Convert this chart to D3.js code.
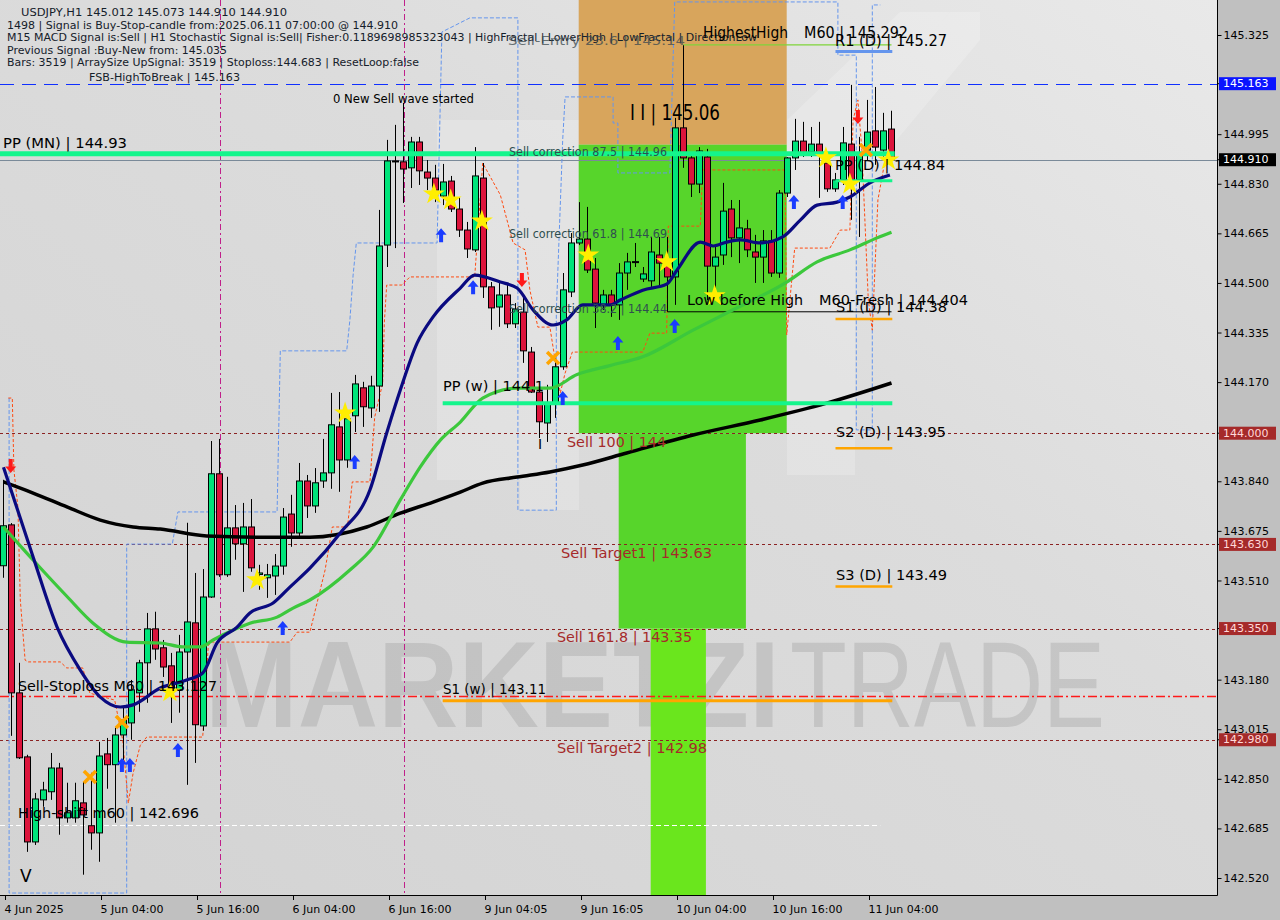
<!DOCTYPE html>
<html><head><meta charset="utf-8">
<script src="https://cdn.jsdelivr.net/npm/d3@7"></script>
<style>body{margin:0;background:#c0c0c0;}svg{display:block;}</style>
</head><body><svg id="c" width="1280" height="920"></svg>
<script>
// ---------- DATA ----------
const opens  = [143.559,143.695,143.136,142.923,142.640,142.780,142.807,142.886,142.720,142.720,142.770,142.694,142.670,142.933,142.897,142.996,143.036,143.136,143.236,143.349,143.286,143.226,143.146,143.272,143.369,143.026,143.455,143.865,143.529,143.685,143.632,143.688,143.530,143.519,143.525,143.558,143.731,143.668,143.841,143.758,143.841,143.868,144.021,143.911,144.058,144.151,144.084,144.157,144.626,144.906,144.903,144.883,144.969,144.869,144.849,144.789,144.839,144.746,144.676,144.610,144.849,144.487,144.420,144.460,144.364,144.403,144.270,144.137,144.034,144.101,144.221,144.470,144.633,144.646,144.546,144.427,144.460,144.427,144.533,144.570,144.513,144.507,144.593,144.560,144.520,145.016,144.916,144.829,144.919,144.556,144.593,144.746,144.650,144.680,144.603,144.586,144.640,144.533,144.799,144.916,144.972,144.936,144.962,144.899,144.813,144.843,144.962,144.843,144.942,145.006,144.942,145.012];
const highs  = [143.845,143.701,143.236,142.930,142.803,142.840,142.936,142.903,142.837,142.837,142.840,142.870,142.973,142.986,143.020,143.089,143.179,143.246,143.402,143.406,143.312,143.269,143.329,143.702,143.535,143.548,143.974,143.981,143.855,143.761,143.768,143.781,143.562,143.565,143.598,143.751,143.795,143.901,143.861,143.884,143.981,144.134,144.137,144.071,144.194,144.171,144.191,144.743,144.976,145.026,145.099,144.986,144.986,144.909,144.893,144.896,144.856,144.786,144.703,144.952,144.899,144.503,144.500,144.500,144.433,144.453,144.287,144.154,144.161,144.250,144.533,144.666,144.769,144.753,144.583,144.477,144.477,144.566,144.600,144.633,144.553,144.653,144.653,144.653,145.049,145.292,144.932,144.952,144.946,144.620,144.833,144.776,144.776,144.710,144.660,144.676,144.676,144.809,144.919,145.046,145.036,145.019,145.036,144.932,144.866,145.019,145.159,144.986,145.109,145.152,145.066,145.073];
const lows   = [143.519,142.993,142.916,142.607,142.630,142.757,142.780,142.664,142.704,142.704,142.531,142.614,142.574,142.817,142.704,142.913,142.980,143.073,143.103,143.246,143.189,143.036,143.070,142.830,142.903,143.010,143.452,143.522,143.522,143.579,143.472,143.539,143.479,143.452,143.462,143.529,143.622,143.652,143.718,143.735,143.818,143.815,143.805,143.885,144.004,144.021,144.051,144.071,144.553,144.616,144.766,144.816,144.826,144.809,144.769,144.759,144.736,144.653,144.583,144.603,144.450,144.344,144.354,144.350,144.350,144.234,144.134,143.984,143.971,144.051,144.211,144.453,144.626,144.533,144.350,144.410,144.387,144.377,144.477,144.553,144.503,144.487,144.493,144.427,144.427,144.883,144.786,144.799,144.443,144.453,144.560,144.586,144.566,144.586,144.500,144.500,144.520,144.517,144.786,144.876,144.919,144.919,144.783,144.803,144.803,144.826,144.710,144.653,144.909,144.893,144.909,144.910];
const closes = [143.692,143.136,142.920,142.640,142.783,142.813,142.886,142.720,142.737,142.777,142.730,142.670,142.926,142.897,142.996,143.046,143.146,143.236,143.349,143.282,143.222,143.146,143.272,143.372,143.030,143.455,143.865,143.529,143.685,143.632,143.688,143.552,143.535,143.529,143.558,143.721,143.668,143.841,143.758,143.835,143.868,144.028,143.911,144.048,144.164,144.088,144.157,144.623,144.906,144.903,144.879,144.969,144.873,144.849,144.809,144.836,144.746,144.676,144.613,144.856,144.487,144.417,144.460,144.364,144.413,144.274,144.137,144.038,144.101,144.221,144.477,144.633,144.646,144.543,144.433,144.460,144.427,144.533,144.570,144.571,144.530,144.603,144.566,144.520,145.016,144.916,144.829,144.939,144.556,144.586,144.739,144.650,144.683,144.610,144.586,144.640,144.533,144.799,144.916,144.972,144.932,144.962,144.932,144.813,144.843,144.966,144.843,144.932,145.002,144.952,145.006,144.910];

const timeLabels = ["4 Jun 2025","5 Jun 04:00","5 Jun 16:00","6 Jun 04:00","6 Jun 16:00","9 Jun 04:05","9 Jun 16:05","10 Jun 04:00","10 Jun 16:00","11 Jun 04:00"];
const timeIdx    = [0,12,24,36,48,60,72,84,96,108];
const priceTicks = [145.325,144.995,144.830,144.665,144.500,144.335,144.170,143.840,143.675,143.510,143.180,143.015,142.850,142.685,142.520];
const markedPrices = [145.163,144.910,144.000,143.630,143.350,142.980];
const markedKinds  = ["blue","black","red","red","red","red"];

// moving averages: [bar index, price]
const maFast = [[0,143.887],[3.7,143.588],[6.7,143.355],[9.6,143.212],[12.1,143.122],[14.6,143.089],[16.2,143.096],[19.6,143.152],[22.9,143.179],[24.9,143.202],[26.7,143.302],[29.2,143.355],[30.8,143.402],[33.7,143.435],[35.8,143.488],[38.3,143.551],[42.1,143.668],[45.8,143.811],[47.9,144.001],[49.6,144.144],[51.7,144.300],[53.7,144.387],[57.1,144.483],[58.9,144.526],[62.1,144.503],[64.2,144.483],[66.2,144.410],[68.7,144.360],[70.4,144.377],[72.4,144.427],[75.8,144.427],[77.1,144.443],[79.9,144.476],[82.9,144.496],[84.2,144.543],[87.1,144.636],[88.7,144.623],[90.4,144.636],[92.1,144.643],[94.6,144.633],[97.4,144.653],[99.6,144.709],[101.7,144.759],[104.2,144.769],[105.8,144.786],[108.3,144.833],[110.8,144.859]];
const maMid = [[0,143.688],[3.7,143.578],[8.0,143.455],[11.2,143.368],[15.4,143.305],[19.6,143.302],[22.4,143.289],[24.6,143.289],[26.2,143.312],[28.7,143.345],[30.8,143.368],[34.2,143.388],[36.2,143.418],[38.3,143.445],[43.3,143.545],[46.2,143.621],[49.6,143.778],[52.1,143.888],[54.6,143.977],[57.1,144.037],[59.9,144.117],[64.2,144.150],[68.3,144.150],[71.7,144.195],[75.8,144.225],[79.9,144.254],[86.2,144.343],[90.4,144.400],[97.9,144.503],[101.7,144.570],[105.8,144.610],[109.2,144.650],[111,144.669]];
const maSlow = [[0,143.838],[3.7,143.801],[8.0,143.754],[12.1,143.711],[16.2,143.688],[19.6,143.681],[25.4,143.658],[32.4,143.654],[38.3,143.654],[45.4,143.688],[49.6,143.734],[53.7,143.771],[57.1,143.804],[59.9,143.834],[64.2,143.854],[68.3,143.871],[72.4,143.894],[77.9,143.934],[86.2,143.994],[94.6,144.044],[102.9,144.100],[111,144.167]];
// step indicators [bar index, price]
const stopLine = [[0.6,144.117],[1.1,144.117],[1.3,143.878],[1.8,143.754],[2.1,143.445],[2.7,143.245],[3.1,143.239],[7.1,143.239],[7.9,143.219],[9.9,143.219],[10.8,143.135],[13.9,143.112],[14.9,142.979],[15.6,142.769],[16.2,142.869],[17.1,142.962],[17.9,142.989],[24.9,142.989],[25.2,143.112],[25.6,143.295],[26.1,143.305],[35.8,143.305],[36.7,143.338],[38.3,143.338],[40.2,143.545],[41.1,143.688],[43.0,143.688],[43.6,143.838],[45.8,143.838],[46.4,144.054],[47.4,144.167],[47.6,144.367],[47.9,144.493],[49.8,144.493],[50.8,144.520],[58.9,144.520],[59.9,144.899],[62.1,144.793],[63.7,144.633],[65.2,144.610],[65.8,144.476],[66.8,144.353],[68.3,144.353],[69.6,144.134],[70.2,144.200],[71.1,144.270],[79.9,144.270],[80.8,144.333],[82.9,144.333],[83.1,144.689],[87.1,144.689],[87.4,144.876],[97.7,144.876],[97.9,144.327],[98.9,144.616],[103.3,144.616],[104.6,144.676],[105.8,144.676],[106.2,145.042],[106.8,145.109],[107.3,144.942],[108.1,144.443],[108.6,144.343],[109.3,144.776],[110.2,144.909],[110.8,144.909]];
const bandLine = [[0.7,144.117],[0.7,142.470],[15.4,142.470],[15.4,143.631],[21.1,143.631],[21.8,143.738],[34.2,143.738],[34.6,144.274],[42.9,144.274],[43.3,144.377],[43.7,144.526],[44.1,144.633],[54.2,144.633],[54.8,145.335],[58.3,145.382],[64.3,145.382],[64.3,143.744],[69.1,143.744],[69.1,144.400],[69.9,144.976],[70.2,145.119],[76.2,145.119],[76.2,145.032],[76.8,145.032],[76.8,144.866],[83.3,144.866],[83.9,145.435],[104.3,145.435],[104.3,145.258],[106.6,145.258],[106.6,144.011],[108.6,144.011],[108.6,145.425],[109.6,145.425]];

// zones: [start idx, end idx, top price, bottom price, kind]
const zoneStart = [71.9,71.9,76.9,80.9];
const zoneEnd   = [97.9,97.9,92.8,87.8];
const zoneTop   = [145.45,144.96,144.00,143.35];
const zoneBot   = [144.96,144.00,143.35,142.46];
const zoneKind  = ["entry","tp1","tp2","tp3"];

// signals [bar index, price]
const buyArrows  = [[14.8,142.896],[15.8,142.896],[21.8,142.946],[34.9,143.352],[43.9,143.904],[54.7,144.659],[58.7,144.486],[69.9,144.117],[76.8,144.300],[83.9,144.357],[98.8,144.769],[104.9,144.769]];
const sellArrows = [[0.9,143.891],[64.8,144.510],[106.8,145.052]];
const stars      = [[20.8,143.139],[31.7,143.512],[42.7,144.067],[53.8,144.796],[55.9,144.776],[59.8,144.706],[73.1,144.593],[82.9,144.570],[88.9,144.457],[102.8,144.916],[105.8,144.829],[110.6,144.909]];
const crosses    = [[10.8,142.856],[14.8,143.039],[68.7,144.250],[107.8,144.942]];

// ---------- SCALES ----------
const svg = d3.select('#c');
const PR = 1217, PB = 895;
const x = d3.scaleLinear().domain([0,111]).range([3.5,891.5]);
const y = d3.scaleLinear().domain([142.520,145.325]).range([878,35]);

// defs
const defs = svg.append('defs');
const lg = defs.append('linearGradient').attr('id','bg').attr('x1','0').attr('y1','1').attr('x2','1').attr('y2','0');
lg.append('stop').attr('offset','0').attr('stop-color','#d3d3d3');
lg.append('stop').attr('offset','0.6').attr('stop-color','#dcdcdc');
lg.append('stop').attr('offset','1').attr('stop-color','#e9e9e9');
defs.append('clipPath').attr('id','clip').append('rect').attr('x',0).attr('y',0).attr('width',PR).attr('height',PB);

svg.append('rect').attr('width',1280).attr('height',920).attr('fill','#c0c0c0');
svg.append('rect').attr('width',PR).attr('height',PB).attr('fill','url(#bg)');

const plot = svg.append('g').attr('clip-path','url(#clip)');

// watermark logo shapes (decorative)
const wm = plot.append('g').attr('fill','#ffffff').attr('opacity',0.2);
wm.append('polygon').attr('points','437,120 579,120 579,510 520,510 520,480 437,480');
wm.append('polygon').attr('points','437,120 520,120 700,330 650,400');
wm.append('polygon').attr('points','787,120 855,120 855,475 787,475');
wm.append('polygon').attr('points','855,120 950,12 980,12 980,40 855,190');
wm.append('polygon').attr('points','787,120 860,120 950,12 900,12');

// watermark text
plot.append('text').attr('x',205).attr('y',727).text('MARKETZI')
  .attr('font-family','Liberation Sans, Arial, sans-serif').attr('font-weight','bold').attr('font-size',122)
  .attr('textLength',575).attr('lengthAdjust','spacingAndGlyphs').attr('fill','#9a9a9a').attr('opacity',0.33);
plot.append('text').attr('x',790).attr('y',727).text('TRADE')
  .attr('font-family','Liberation Sans, Arial, sans-serif').attr('font-weight','normal').attr('font-size',122)
  .attr('textLength',315).attr('lengthAdjust','spacingAndGlyphs').attr('fill','#9a9a9a').attr('opacity',0.33);

// zones
const zoneColor = {entry:'#d8a55c', tp1:'#57d52b', tp2:'#57d52b', tp3:'#6ae61d'};
plot.selectAll('rect.zone').data(d3.range(zoneStart.length)).join('rect')
  .attr('x',i=>x(zoneStart[i])).attr('width',i=>x(zoneEnd[i])-x(zoneStart[i]))
  .attr('y',i=>y(zoneTop[i])).attr('height',i=>y(zoneBot[i])-y(zoneTop[i]))
  .attr('fill',i=>zoneColor[zoneKind[i]]);

// horizontal level lines (full width)
function hline(p, x0, x1, color, w, dash){
  plot.append('line').attr('x1',x0).attr('x2',x1).attr('y1',Math.round(y(p))+0.5).attr('y2',Math.round(y(p))+0.5)
    .attr('stroke',color).attr('stroke-width',w).attr('stroke-dasharray',dash||null);
}
hline(145.163,0,PR,'#1030ff',1,'14,8');
hline(144.910,0,PR,'#7a8a99',1);
[144.000,143.630,143.350,142.980].forEach(p=>hline(p,0,PR,'#8b2222',1,'3,3'));
hline(143.127,0,PR,'#ff1a1a',1.3,'9,3,2,3');
hline(142.696,0,x(109.6),'#ffffff',1,'5,3');

// vertical dash-dot separators
[27,50].forEach(i=>{
  plot.append('line').attr('x1',Math.round(x(i))+0.5).attr('x2',Math.round(x(i))+0.5).attr('y1',0).attr('y2',PB)
    .attr('stroke','#c0208a').attr('stroke-width',1).attr('stroke-dasharray','6,3,2,3');
});

// step indicator lines
const lineGen = d3.line().x(d=>x(d[0])).y(d=>y(d[1]));
plot.append('path').attr('d',lineGen(bandLine)).attr('fill','none').attr('stroke','#6495ed').attr('stroke-width',1).attr('stroke-dasharray','4,2');
plot.append('path').attr('d',lineGen(stopLine)).attr('fill','none').attr('stroke','#ff4a10').attr('stroke-width',1).attr('stroke-dasharray','3,2');

// candles
const bars = d3.range(opens.length).map(i=>({i,o:opens[i],h:highs[i],l:lows[i],c:closes[i]}));
const cg = plot.append('g');
cg.selectAll('line').data(bars).join('line')
  .attr('x1',d=>x(d.i)).attr('x2',d=>x(d.i))
  .attr('y1',d=>y(d.h)).attr('y2',d=>y(d.l)).attr('stroke','#000').attr('stroke-width',1);
cg.selectAll('rect').data(bars).join('rect')
  .attr('x',d=>x(d.i)-3).attr('width',6)
  .attr('y',d=>Math.min(y(d.o),y(d.c))).attr('height',d=>Math.max(1,Math.abs(y(d.o)-y(d.c))))
  .attr('fill',d=>d.c>=d.o?'#00e47a':'#dc143c').attr('stroke','#000').attr('stroke-width',1);

// black bracket "low before high" & M60 line
plot.append('path').attr('d',`M${x(83)},${y(144.49)} L${x(83)},${y(144.404)} L${x(111)},${y(144.404)}`).attr('fill','none').attr('stroke','#000').attr('stroke-width',1);
plot.append('line').attr('x1',x(85)).attr('x2',x(111)).attr('y1',y(145.292)).attr('y2',y(145.292)).attr('stroke','#7fd43a').attr('stroke-width',1.2);

// moving averages
const curve = d3.line().x(d=>x(d[0])).y(d=>y(d[1])).curve(d3.curveMonotoneX);
plot.append('path').attr('d',curve(maSlow)).attr('fill','none').attr('stroke','#000').attr('stroke-width',3.5);
plot.append('path').attr('d',curve(maMid)).attr('fill','none').attr('stroke','#3cc83c').attr('stroke-width',3.2);
plot.append('path').attr('d',curve(maFast)).attr('fill','none').attr('stroke','#0a0a80').attr('stroke-width',3.2);

// pivot segments
function seg(p,i0,i1,color,w){ plot.append('line').attr('x1',x(i0)).attr('x2',x(i1)).attr('y1',y(p)).attr('y2',y(p)).attr('stroke',color).attr('stroke-width',w); }
seg(144.93,-0.5,111.4,'#14f58c',5);
seg(144.10,54.9,111.1,'#14f58c',4);
seg(143.11,54.9,111.1,'#ffa500',3);
seg(145.27,104,111.1,'#6495ed',3);
seg(144.84,104,111.1,'#14f58c',3);
seg(144.38,104,111.1,'#ffa500',2.5);
seg(143.95,104,111.1,'#ffa500',2.5);
seg(143.49,104,111.1,'#ffa500',2.5);

// markers
const mg = plot.append('g');
mg.selectAll('path.buy').data(buyArrows).join('path')
  .attr('transform',d=>`translate(${x(d[0])},${y(d[1])})`)
  .attr('d','M0,-7 L5.5,-0.5 L2,-0.5 L2,7 L-2,7 L-2,-0.5 L-5.5,-0.5 Z').attr('fill','#1a3cff');
mg.selectAll('path.sell').data(sellArrows).join('path')
  .attr('transform',d=>`translate(${x(d[0])},${y(d[1])})`)
  .attr('d','M0,7 L5.5,0.5 L2,0.5 L2,-7 L-2,-7 L-2,0.5 L-5.5,0.5 Z').attr('fill','#ff1a1a');
mg.selectAll('path.star').data(stars).join('path')
  .attr('transform',d=>`translate(${x(d[0])},${y(d[1])})`)
  .attr('d',d3.symbol(d3.symbolStar,150)()).attr('fill','#ffee00');
mg.selectAll('path.cross').data(crosses).join('path')
  .attr('transform',d=>`translate(${x(d[0])},${y(d[1])})`)
  .attr('d','M-6,-6 L6,6 M6,-6 L-6,6').attr('stroke','#ffa500').attr('stroke-width',3.5).attr('fill','none');

// ---------- TEXT LABELS ----------
const FONT = 'DejaVu Sans, Verdana, sans-serif';
function label(t,px,py,size,w,color,extra){
  const el = svg.append('text').attr('x',px).attr('y',py).attr('dominant-baseline','central')
    .attr('font-family',FONT).attr('font-size',size).attr('fill',color||'#000').text(t);
  if(w) el.attr('textLength',w).attr('lengthAdjust','spacingAndGlyphs');
  if(extra) extra(el);
  return el;
}
const TL='#15202a';
label('USDJPY,H1  145.012 145.073 144.910 144.910',21,12.7,11,266,TL);
label('1498 | Signal is Buy-Stop-candle from:2025.06.11 07:00:00 @ 144.910',7,25.3,11,391,TL);
label('M15 MACD Signal is:Sell | H1 Stochastic Signal is:Sell| Fisher:0.1189698985323043 | HighFractal | LowerHigh | LowFractal | DirectionLow',7,37.3,11,750,TL);
label('Previous Signal :Buy-New from: 145.035',7,50,11,220,TL);
label('Bars: 3519 | ArraySize UpSignal: 3519 | Stoploss:144.683 | ResetLoop:false',7,62,11,412,TL);
label('FSB-HighToBreak | 145.163',89,77,11,151,TL);

label('Sell-Entry 23.6 | 145.14',508,40,13,177,'#3c4a50',e=>e.attr('opacity',0.75));
label('HighestHigh',703,33,15,85,'#000');
label('M60 | 145.292',804,33,15,104,'#000');
label('R1 (D) | 145.27',835,41,15,112,'#000');
label('0 New Sell wave started',333,98,12.5,141,'#000');
label('I I | 145.06',630,113,21,90,'#000');
label('PP (MN) | 144.93',3,143,14.5,124,'#000');
label('Sell correction 87.5 | 144.96',509,152,12,158,'#2f4f4f');
label('PP (D) | 144.84',835,165,14,110,'#000');
label('Sell correction 61.8 | 144.69',509,234,12,158,'#2f4f4f');
label('Low before High',687,300,14,116,'#000');
label('M60-Fresh | 144.404',819,300,14,149,'#000');
label('S1 (D) | 144.38',836,307,14,111,'#000');
label('Sell correction 38.2 | 144.44',509,309,12,158,'#2f4f4f');
label('PP (w) | 144.1',443,386,14,101,'#000');
label('S2 (D) | 143.95',836,432,14,110,'#000');
label('Sell 100 | 144',567,442,14,99,'#a52a2a');
label('I',538,444,14,null,'#000');
label('Sell Target1 | 143.63',561,553,14,151,'#a52a2a');
label('S3 (D) | 143.49',836,575,14,111,'#000');
label('Sell 161.8 | 143.35',557,637,14,135,'#a52a2a');
label('Sell-Stoploss M60 | 143.127',18,686,14,199,'#000');
label('S1 (w) | 143.11',443,689,14,103,'#000');
label('Sell Target2 | 142.98',557,748,14,150,'#a52a2a');
label('High-shift m60 | 142.696',18,813,14,181,'#000');
label('V',20,876,17,null,'#000');

// ---------- AXES ----------
svg.append('line').attr('x1',PR+0.5).attr('x2',PR+0.5).attr('y1',0).attr('y2',PB+0.5).attr('stroke','#000');
svg.append('line').attr('x1',0).attr('x2',PR+0.5).attr('y1',PB+0.5).attr('y2',PB+0.5).attr('stroke','#000');

const yAxis = d3.axisRight(y).tickValues(priceTicks).tickFormat(d3.format('.3f')).tickSize(4).tickPadding(2);
const ya = svg.append('g').attr('transform',`translate(${PR+0.5},0)`).call(yAxis);
ya.select('.domain').remove();
ya.selectAll('text').attr('font-family',FONT).attr('font-size',11).attr('fill','#000');
ya.selectAll('line').attr('stroke','#000');

const boxColor = {blue:['#0a14ff','#ffffff'], black:['#000000','#ffffff'], red:['#a52a2a','#ffd8d8']};
markedPrices.forEach((p,k)=>{
  const yy = y(p);
  svg.append('line').attr('x1',PR).attr('x2',PR+4).attr('y1',yy).attr('y2',yy).attr('stroke','#000');
  svg.append('rect').attr('x',PR+2).attr('y',yy-6.5).attr('width',57).attr('height',13).attr('fill',boxColor[markedKinds[k]][0]);
  svg.append('text').attr('x',PR+6).attr('y',yy).attr('dominant-baseline','central').attr('font-family',FONT).attr('font-size',11)
    .attr('fill',boxColor[markedKinds[k]][1]).text(d3.format('.3f')(p));
});

const xa = svg.append('g');
timeIdx.forEach((ti,k)=>{
  const xx = Math.round(x(ti))+1.5;
  xa.append('line').attr('x1',xx).attr('x2',xx).attr('y1',PB).attr('y2',PB+5).attr('stroke','#000');
  xa.append('text').attr('x',xx-1).attr('y',909).attr('dominant-baseline','central').attr('font-family',FONT).attr('font-size',11).attr('fill','#000').text(timeLabels[k]);
});
</script></body></html>
